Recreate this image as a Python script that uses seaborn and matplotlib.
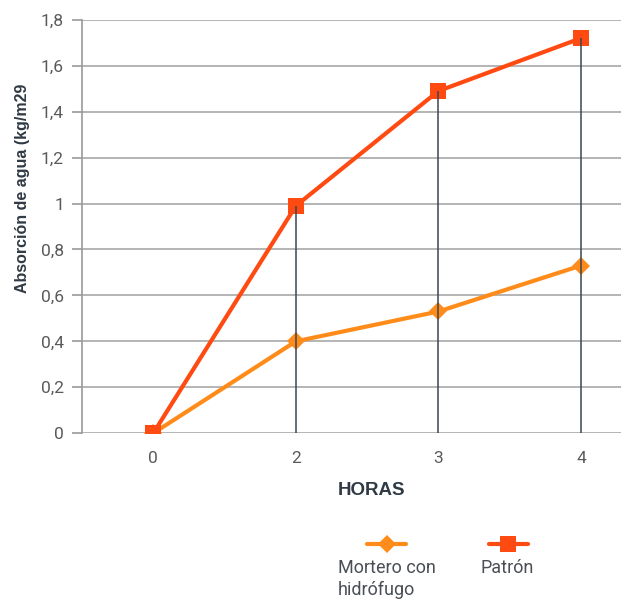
import matplotlib
matplotlib.use("Agg")
import matplotlib.pyplot as plt
from matplotlib.lines import Line2D
from matplotlib.ticker import FuncFormatter
import seaborn as sns
import pandas as pd

# Hours of immersion and water absorption (kg/m2) for each mortar
horas = ["0", "2", "3", "4"]
mortero_hidrofugo = [0.0, 0.40, 0.53, 0.73]
patron = [0.0, 0.99, 1.49, 1.72]

series_names = ["Mortero con\nhidrófugo", "Patrón"]
colors = ["#FF8C1A", "#FF4A12"]
markers = ["D", "s"]
msizes = [9, 11]

pos = list(range(len(horas)))
df = pd.DataFrame({
    "pos": pos * 2,
    "valor": mortero_hidrofugo + patron,
    "serie": [series_names[0]] * len(horas) + [series_names[1]] * len(horas),
})

sns.set_style("white")
plt.rcParams["font.family"] = ["Roboto", "DejaVu Sans"]

fig = plt.figure(figsize=(6.21, 6.0), dpi=100)
ax = fig.add_axes([0.132, 0.278, 0.868, 0.689])

# Horizontal grid
ax.set_ylim(0, 1.8)
ax.set_yticks([i * 0.2 for i in range(10)])
ax.yaxis.grid(True, color="#b4b4b4", lw=1.4)
ax.xaxis.grid(False)
ax.set_axisbelow(True)

for name, color, mk, ms in zip(series_names, colors, markers, msizes):
    sub = df[df["serie"] == name]
    sns.lineplot(data=sub, x="pos", y="valor", ax=ax, color=color, lw=3,
                 marker=mk, markersize=ms, markeredgewidth=0,
                 legend=False, zorder=3)

# Drop lines from the highest value to the axis
tops = [max(a, b) for a, b in zip(mortero_hidrofugo, patron)]
ax.vlines(pos[1:], 0, tops[1:], color="#3b4652", lw=1.1, zorder=4)

ax.set_xlim(-0.5, 3.28)
ax.set_xticks(pos)
ax.set_xticklabels(horas)
ax.yaxis.set_major_formatter(FuncFormatter(
    lambda v, _: ("%g" % round(v, 1)).replace(".", ",")))

for s in ["top", "right", "bottom"]:
    ax.spines[s].set_visible(False)
ax.spines["left"].set_color("#9a9a9a")
ax.spines["left"].set_linewidth(1.2)

ax.tick_params(axis="y", left=True, length=7, width=1.2, color="#9a9a9a",
               labelsize=12.5, labelcolor="#5a5a5a", pad=6)
ax.tick_params(axis="x", bottom=False, labelsize=12.5, labelcolor="#5a5a5a",
               pad=9)

ax.set_xlabel("HORAS", fontsize=13.5, fontweight="bold", color="#2f3a44",
              family="Liberation Sans")
ax.xaxis.set_label_coords(0.538, -0.117)
ax.set_ylabel("Absorción de agua (kg/m29", fontsize=11.5, fontweight="bold",
              color="#2f3a44", family="Liberation Sans")
ax.yaxis.set_label_coords(-0.097, 0.593)

# Legend: key above each label
key_x = [(0.591, 0.654), (0.787, 0.850)]
text_x = [0.544, 0.773]
for (x0, x1), tx, name, color, mk, ms in zip(key_x, text_x, series_names,
                                             colors, markers, msizes):
    fig.add_artist(Line2D([x0, x1], [0.093, 0.093], transform=fig.transFigure,
                          color=color, lw=3))
    fig.add_artist(Line2D([(x0 + x1) / 2], [0.093], transform=fig.transFigure,
                          color=color, marker=mk, markersize=ms,
                          markeredgewidth=0, lw=0))
    fig.text(tx, 0.068, name, ha="left", va="top", fontsize=13,
             color="#4a4f55", linespacing=1.25)

fig.savefig("out.png", dpi=100)
